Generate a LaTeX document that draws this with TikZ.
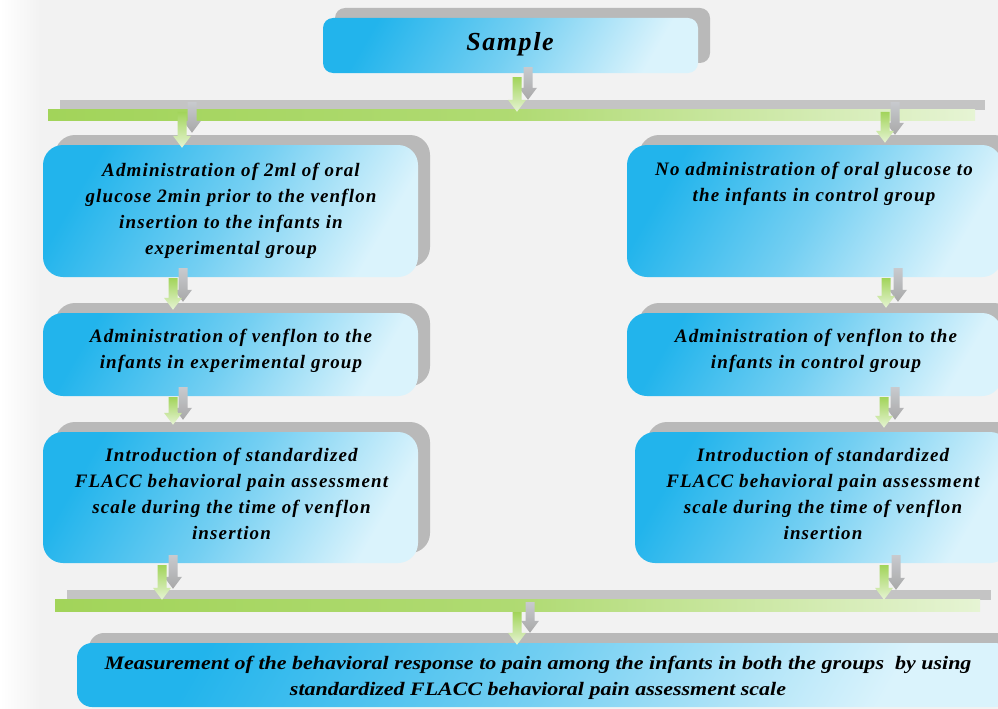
\documentclass[tikz,border=0pt]{standalone}
\usepackage{fontspec}
\setmainfont{Liberation Serif}
\newfontfamily\boxfont[LetterSpace=6]{Liberation Serif}
\usepackage{graphicx}
\usetikzlibrary{calc,shadows}

\definecolor{bgc}{HTML}{F2F2F2}
\definecolor{boxA}{HTML}{22B4EC}
\definecolor{boxM}{HTML}{74CFF2}
\definecolor{boxB}{HTML}{DAF3FC}
\definecolor{shadowc}{HTML}{B9B9B9}
\definecolor{greenA}{HTML}{A2D45A}
\definecolor{greenB}{HTML}{E6F4D4}
\definecolor{grayA}{HTML}{C8CACE}
\definecolor{grayB}{HTML}{A8A8A8}
\definecolor{graybarc}{HTML}{C4C4C4}

\tikzset{
  bluebox/.style={rounded corners=#1, draw=none, inner sep=0pt,
    left color=boxA, right color=boxB, middle color=boxM, shading angle=60,
    general shadow={fill=shadowc, shadow xshift=12pt, shadow yshift=10pt}},
  bluebox/.default=20pt,
  graybarst/.style={rectangle, draw=none, inner sep=0pt, fill=graybarc},
  greenbarst/.style={rectangle, draw=none, inner sep=0pt,
    left color=greenA, right color=greenB, middle color=greenA!80!greenB},
  greenarr/.style={top color=greenA, bottom color=greenB},
  grayarr/.style={top color=grayA, bottom color=grayB},
  txt/.style={font=\boxfont\fontsize{19}{26}\selectfont\bfseries\itshape, align=center,
    inner sep=0pt, anchor=north, text=black},
}

% block arrow: #1 style, #2 x (pt), #3 start coordinate, #4 tip coordinate
\newcommand\barr[4]{%
  \path[#1] let \p1=#3, \p2=#4 in
    (#2pt-4.5pt,\y1) -- (#2pt+4.5pt,\y1) -- (#2pt+4.5pt,\y2+12pt) --
    (#2pt+9pt,\y2+12pt) -- (#2pt,\y2) -- (#2pt-9pt,\y2+12pt) --
    (#2pt-4.5pt,\y2+12pt) -- cycle;}

\begin{document}
\begin{tikzpicture}[x=1pt,y=-1pt]
\useasboundingbox (0,0) rectangle (998,709);
\clip (0,0) rectangle (998,709);
\fill[bgc] (0,0) rectangle (998,709);
\shade[left color=white, right color=bgc] (0,0) rectangle (40,709);

% boxes
\node[bluebox=10pt, minimum width=375pt, minimum height=55pt] (sample) at (510.5,45.5) {};
\node[bluebox, minimum width=375pt, minimum height=132pt] (L1) at (230.5,211) {};
\node[bluebox, minimum width=375pt, minimum height=83pt] (L2) at (230.5,354.5) {};
\node[bluebox, minimum width=375pt, minimum height=131pt] (L3) at (230.5,497.5) {};
\node[bluebox, minimum width=375pt, minimum height=132pt] (R1) at (814.5,211) {};
\node[bluebox, minimum width=375pt, minimum height=83pt] (R2) at (814.5,354.5) {};
\node[bluebox, minimum width=375pt, minimum height=131pt] (R3) at (822.5,497.5) {};
\node[bluebox=15pt, minimum width=933pt, minimum height=64pt] (B) at (543.5,675) {};

% bars
\node[graybarst, minimum width=925pt, minimum height=10pt] (bar1gray) at (522.5,105) {};
\node[greenbarst, minimum width=927pt, minimum height=11pt] (bar1) at (511.5,114.5) {};
\node[graybarst, minimum width=924pt, minimum height=10pt] (bar2gray) at (529,595) {};
\node[greenbarst, minimum width=925pt, minimum height=12pt] (bar2) at (517.5,605) {};

% gray arrows (behind)
\barr{grayarr}{528}{([yshift=6pt]sample.south)}{(bar1gray.north)}
\barr{grayarr}{192}{([yshift=3pt]bar1gray.center)}{([yshift=12pt]L1.north)}
\barr{grayarr}{895}{([yshift=3pt]bar1gray.center)}{([yshift=10pt]R1.north)}
\barr{grayarr}{183}{([yshift=9pt]L1.south)}{([yshift=11pt]L2.north)}
\barr{grayarr}{898}{([yshift=9pt]R1.south)}{([yshift=11pt]R2.north)}
\barr{grayarr}{183}{([yshift=9pt]L2.south)}{([yshift=12pt]L3.north)}
\barr{grayarr}{895}{([yshift=9pt]R2.south)}{([yshift=12pt]R3.north)}
\barr{grayarr}{173}{([yshift=8pt]L3.south)}{([yshift=1pt]bar2gray.north)}
\barr{grayarr}{896}{([yshift=8pt]R3.south)}{(bar2gray.north)}
\barr{grayarr}{530}{([yshift=-2pt]bar2gray.south)}{([yshift=10pt]B.north)}

% green arrows (front)
\barr{greenarr}{517}{([yshift=-4pt]sample.south)}{([yshift=-3pt]bar1.north)}
\barr{greenarr}{182}{([yshift=-3pt]bar1.north)}{([yshift=-3pt]L1.north)}
\barr{greenarr}{885}{([yshift=-3pt]bar1.north)}{([yshift=2pt]R1.north)}
\barr{greenarr}{173}{([yshift=-1pt]L1.south)}{([yshift=3pt]L2.north)}
\barr{greenarr}{886}{([yshift=-1pt]R1.south)}{([yshift=5pt]R2.north)}
\barr{greenarr}{173}{([yshift=-1pt]L2.south)}{([yshift=7pt]L3.north)}
\barr{greenarr}{884}{([yshift=-1pt]R2.south)}{([yshift=4pt]R3.north)}
\barr{greenarr}{162}{([yshift=-2pt]L3.south)}{([yshift=-1pt]bar2.north)}
\barr{greenarr}{884}{([yshift=-2pt]R3.south)}{([yshift=-1pt]bar2.north)}
\barr{greenarr}{517}{([yshift=-1pt]bar2.south)}{([yshift=-2pt]B.north)}

% texts
\node[txt, font=\boxfont\fontsize{26}{30}\selectfont\bfseries\itshape] (samplet) at (510,32) {Sample};
\node[txt] (L1t) at (231,163) {Administration of 2ml of oral\\glucose 2min prior to the venflon\\insertion to the infants in\\experimental group};
\node[txt] (L2t) at (231,329) {Administration of venflon to the\\infants in experimental group};
\node[txt] (L3t) at (231.5,448) {Introduction of standardized\\FLACC behavioral pain assessment\\scale during the time of venflon\\insertion};
\node[txt] (R1t) at (814,162) {No administration of oral glucose to\\the infants in control group};
\node[txt] (R2t) at (816,329) {Administration of venflon to the\\infants in control group};
\node[txt] (R3t) at (823,448) {Introduction of standardized\\FLACC behavioral pain assessment\\scale during the time of venflon\\insertion};
\node[txt, font=\fontsize{19}{26}\selectfont\bfseries\itshape] (Bt) at (538,656) {\resizebox{867pt}{\height}{Measurement of the behavioral response to pain among the infants in both the groups~ by using}\\\resizebox{496pt}{\height}{standardized FLACC behavioral pain assessment scale}};
\end{tikzpicture}
\end{document}
